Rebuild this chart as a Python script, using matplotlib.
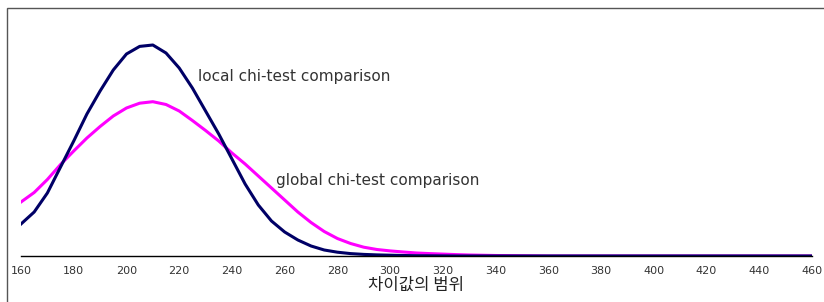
import matplotlib
matplotlib.use("Agg")
import matplotlib.pyplot as plt
from matplotlib.patches import Rectangle

# values (height above the baseline, arbitrary units)
x_vals = [160, 165, 170, 175, 180, 185, 190, 195, 200, 205, 210, 215, 220,
          225, 230, 235, 240, 245, 250, 255, 260, 265, 270, 275, 280, 285,
          290, 295, 300, 305, 310, 315, 320, 325, 330, 340, 360, 380, 400,
          420, 440, 460]
local_vals = [32, 44, 63, 89, 115, 142, 165, 186, 202, 209.6, 211, 203, 188,
              168, 145, 122, 97, 72, 51, 35, 24, 16, 10, 6, 3.8, 2.4,
              1.6, 1.1, 0.8, 0.5, 0.3, 0.2, 0.1, 0, 0, 0, 0, 0, 0,
              0, 0, 0]
global_vals = [54, 63.5, 76.5, 91.5, 105, 118, 129.5, 140, 148, 152.8, 154.3,
               151.5, 145, 135.5, 125.5, 115, 103, 92, 80, 68, 56, 44, 33.5,
               24.5, 17.5, 12.5, 8.8, 6.5, 5.1, 4, 3, 2.4, 1.9, 1.4, 1, 0.5, 0,
               0, 0, 0, 0, 0]
tick_vals = list(range(160, 461, 20))

W, H = 824, 302
fig = plt.figure(figsize=(W / 100, H / 100), dpi=100)

# outer frame (runs off the right and bottom edge)
fig.patches.append(Rectangle((7 / W, -0.1), 1.0, 1 - 8 / H + 0.1,
                             transform=fig.transFigure, fill=False,
                             edgecolor="#555555", linewidth=1))

ax = fig.add_axes([21 / W, 1 - 256 / H, 791 / W, 248 / H])
ax.plot(x_vals, global_vals, color="#ff00ff", linewidth=2.2)
ax.plot(x_vals, local_vals, color="#000066", linewidth=2.2)

ax.set_xlim(160, 460)
ax.set_ylim(0, 248)
for s in ["top", "right", "left"]:
    ax.spines[s].set_visible(False)
ax.spines["bottom"].set_color("black")
ax.spines["bottom"].set_linewidth(1)
ax.set_yticks([])
ax.set_xticks(tick_vals)
ax.tick_params(axis="x", length=0, pad=7, labelsize=8, labelcolor="#333333")
ax.patch.set_alpha(0)

ax.text(227.1, 180, "local chi-test comparison", fontsize=11, color="#333333",
        va="center", ha="left")
ax.text(256.7, 76, "global chi-test comparison", fontsize=11, color="#333333",
        va="center", ha="left")
ax.set_xlabel("차이값의 범위", fontsize=12, color="#222222", labelpad=1,
              family=["Noto Sans CJK KR", "DejaVu Sans"])

fig.savefig("out.png", dpi=100)
